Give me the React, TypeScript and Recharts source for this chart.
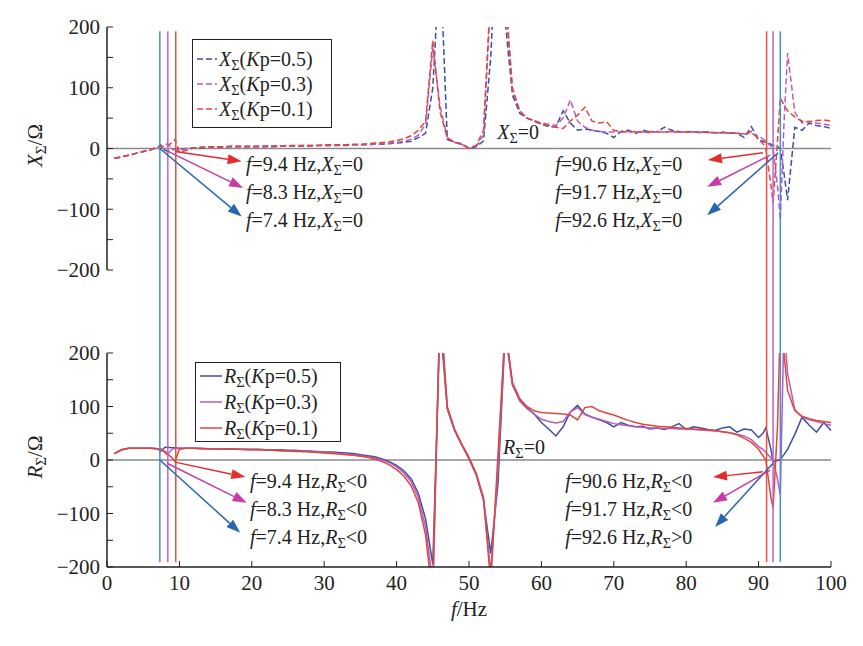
import React from 'react';
import { LineChart, Line, XAxis, YAxis, ReferenceLine, ReferenceDot, Legend } from 'recharts';

const FONT = '"Liberation Serif", "Times New Roman", serif';
const INK = '#222';
const W = 863;
const H = 646;

// sampled frequencies (Hz)
const freq = [
  1, 2, 3, 4, 5, 6, 7, 7.4, 8, 8.3, 9, 9.4, 10,
  11, 12, 13, 14, 15, 16, 17, 18, 19, 20,
  21, 22, 23, 24, 25, 26, 27, 28, 29, 30,
  31, 32, 33, 34, 35, 36, 37, 38, 39, 40,
  41, 42, 43, 44, 45, 46, 47, 48, 49, 50,
  51, 52, 53, 54, 55, 56, 57, 58, 59, 60,
  61, 62, 63, 64, 65, 66, 67, 68, 69, 70,
  71, 72, 73, 74, 75, 76, 77, 78, 79, 80,
  81, 82, 83, 84, 85, 86, 87, 88, 89, 90,
  90.6, 91, 91.7, 92, 92.6, 93, 93.5, 94, 95, 96, 97, 98, 99, 100,
];

// X_Σ, Kp = 0.5 / 0.3 / 0.1
const xKp05 = [
  -16, -14, -11, -8, -5, -2, 2, 6, -3, -4, -2, -1, -1,
  0, 1, 1, 2, 2, 2, 3, 3, 3, 3,
  3, 3, 3, 4, 4, 4, 4, 4, 5, 5,
  5, 5, 5, 6, 6, 6, 7, 7, 8, 9,
  10, 12, 18, 25, 100, 320, 15, 10, 8, -1,
  3, 12, 150, 400, 210, 88, 58, 50, 45, 40,
  36, 36, 62, 42, 30, 32, 30, 28, 25, 18,
  28, 30, 25, 30, 27, 28, 35, 30, 28, 27,
  28, 26, 27, 26, 27, 25, 25, 18, 36, 14,
  12, 10, 7, 5, 3, 0, -40, -85, 35, 30, 42, 38, 36, 33,
];
const xKp03 = [
  -16, -14, -11, -8, -5, -2, 2, 3, 4, 8, 0, -2, -3,
  0, 1, 2, 2, 3, 3, 3, 3, 3, 3,
  3, 4, 4, 4, 4, 4, 5, 5, 5, 5,
  5, 6, 6, 6, 6, 7, 7, 8, 9, 10,
  12, 15, 22, 40, 165, 70, 18, 10, 7, 0,
  3, 22, 250, 450, 250, 95, 62, 50, 46, 42,
  40, 38, 50, 80, 45, 35, 30, 28, 27, 27,
  27, 28, 27, 27, 26, 28, 27, 27, 27, 27,
  27, 27, 26, 26, 26, 25, 25, 24, 25, 20,
  16, 12, 4, 0, -60, -118, 40, 157, 60, 42, 45, 42, 40, 38,
];
const xKp01 = [
  -16, -14, -11, -8, -5, -2, 2, 2, 3, 4, 10, 15, -6,
  -3, 1, 2, 3, 3, 3, 4, 4, 4, 4,
  4, 4, 4, 4, 5, 5, 5, 5, 5, 6,
  6, 6, 6, 7, 7, 8, 9, 10, 11, 13,
  16, 21, 30, 45, 178, 60, 18, 10, 7, 1,
  5, 30, 260, 500, 260, 100, 62, 50, 46, 40,
  38, 35, 33, 45, 55, 68, 45, 42, 44, 30,
  28, 27, 28, 27, 28, 27, 27, 28, 27, 27,
  27, 27, 27, 26, 26, 26, 25, 24, 28, 15,
  8, 0, -60, -90, 10, 83, 72, 62, 52, 45, 44, 46, 47, 45,
];

// R_Σ, Kp = 0.5 / 0.3 / 0.1
const rKp05 = [
  12, 19, 22, 22, 22, 22, 21, 16, 24, 24, 23, 23, 22,
  22, 22, 22, 21, 21, 21, 21, 20, 20, 20,
  20, 19, 19, 19, 18, 18, 17, 17, 16, 15,
  15, 14, 13, 12, 10, 8, 6, 2, -3, -10,
  -20, -35, -62, -110, -195, 260, 95, 55, 28, 2,
  -28, -75, -175, -45, 240, 140, 112, 98, 86, 70,
  58, 45, 62, 90, 102, 86, 80, 75, 70, 62,
  70, 65, 62, 63, 58, 60, 57, 62, 68, 57,
  62, 60, 57, 55, 60, 62, 52, 58, 56, 42,
  50, 60, 20, -3, -1, 1, 10, 20, 48, 80, 65, 52, 70, 55,
];
const rKp03 = [
  12, 19, 22, 22, 22, 22, 21, 20, 14, 10, 20, 22, 22,
  22, 22, 21, 21, 21, 21, 20, 20, 20, 19,
  19, 19, 18, 18, 17, 17, 16, 16, 15, 14,
  13, 12, 11, 10, 8, 6, 4, 0, -5, -13,
  -24, -40, -70, -125, -230, 280, 97, 57, 28, 3,
  -27, -73, -210, -20, 245, 142, 110, 96, 86, 76,
  72, 69, 72, 90, 98, 85, 80, 76, 72, 68,
  66, 64, 62, 61, 60, 60, 59, 59, 58, 58,
  57, 56, 55, 54, 53, 51, 48, 45, 38, 25,
  20, 14, 4, 0, -35, -65, 250, 162, 94, 80, 75, 72, 68, 65,
];
const rKp01 = [
  12, 19, 22, 22, 22, 22, 21, 21, 16, 12, 4, -3, 20,
  22, 22, 21, 21, 21, 20, 20, 20, 19, 19,
  19, 18, 18, 17, 17, 16, 16, 15, 14, 13,
  12, 11, 10, 9, 7, 5, 2, -3, -9, -18,
  -30, -48, -80, -140, -260, 300, 100, 58, 30, 5,
  -25, -70, -230, 10, 250, 145, 115, 100, 92, 89,
  88, 87, 86, 84, 75, 98, 100, 92, 88, 84,
  79, 74, 70, 67, 65, 63, 62, 61, 60, 59,
  58, 57, 56, 55, 53, 51, 47, 41, 33, 20,
  8, 0, -70, -90, 60, 260, 200, 130, 92, 82, 77, 74, 72, 70,
];

const kpNames = ['0.5', '0.3', '0.1'];
const curveColors = ['#3c4fa3', '#b85cba', '#e0473c'];
const cursorColors = ['#4a8fd2', '#c463c4', '#e4503e'];
const arrowColors = ['#2767b2', '#c83aa6', '#e42c2c'];

const xTicks = [0, 10, 20, 30, 40, 50, 60, 70, 80, 90, 100];
const yTicks = [-200, -150, -100, -50, 0, 50, 100, 150, 200];

// where the zero-crossing cursors sit (blue, magenta, red)
const lowCursors = [7.3, 8.4, 9.5];
const highCursors = [93.0, 92.0, 91.1];
const lowFreqLabels = ['7.4', '8.3', '9.4'];
const highFreqLabels = ['92.6', '91.7', '90.6'];
const xSigns = ['=0', '=0', '=0'];
const rLowSigns = ['<0', '<0', '<0'];
const rHighSigns = ['>0', '<0', '<0'];

const xRows = freq.map((f, i) => ({ f, k0: xKp05[i], k1: xKp03[i], k2: xKp01[i] }));
const rRows = freq.map((f, i) => ({ f, k0: rKp05[i], k1: rKp03[i], k2: rKp01[i] }));

type Pt = [number, number];

const Sigma = ({ sym, after }: { sym: string; after: string }) => (
  <>
    <tspan fontStyle="italic">{sym}</tspan>
    <tspan fontSize="0.72em" dy={4}>Σ</tspan>
    <tspan dy={-4}>{after}</tspan>
  </>
);

const arrowShape = (color: string) => (p: any) => {
  const { x1, y1, x2, y2 } = p;
  const dx = x2 - x1;
  const dy = y2 - y1;
  const len = Math.hypot(dx, dy) || 1;
  const ux = dx / len;
  const uy = dy / len;
  const hl = 14;
  const hw = 5;
  const bx = x2 - ux * hl;
  const by = y2 - uy * hl;
  return (
    <g>
      <line x1={x1} y1={y1} x2={bx} y2={by} stroke={color} strokeWidth={1.5} />
      <polygon
        points={`${x2},${y2} ${bx - uy * hw},${by + ux * hw} ${bx + uy * hw},${by - ux * hw}`}
        fill={color}
      />
    </g>
  );
};

const noteShape = (sym: string, fLabel: string, tail: string) => (p: any) => (
  <text x={p.cx} y={p.cy + 7} fontFamily={FONT} fontSize={20} fill={INK}>
    <tspan fontStyle="italic">f</tspan>
    <tspan>{`=${fLabel} Hz,`}</tspan>
    <Sigma sym={sym} after={tail} />
  </text>
);

const zeroShape = (sym: string) => (p: any) => (
  <text x={p.cx} y={p.cy + 7} fontFamily={FONT} fontSize={20} fill={INK}>
    <Sigma sym={sym} after="=0" />
  </text>
);

const yTitle = (sym: string) => (props: any) => {
  const { x, y, height } = props.viewBox;
  const cx = x - 12;
  const cy = y + height / 2 - 3;
  return (
    <text
      x={cx}
      y={cy + 7}
      transform={`rotate(-90 ${cx} ${cy})`}
      textAnchor="middle"
      fontFamily={FONT}
      fontSize={21}
      fill={INK}
    >
      <Sigma sym={sym} after="/Ω" />
    </text>
  );
};

const xTitle = (props: any) => {
  const { x, y, width } = props.viewBox;
  return (
    <text x={x + width / 2} y={y + 49} textAnchor="middle" fontFamily={FONT} fontSize={21} fill={INK}>
      <tspan fontStyle="italic">f</tspan>
      <tspan>/Hz</tspan>
    </text>
  );
};

const yFmt = (v: number) => (v % 100 !== 0 ? '' : v < 0 ? `−${-v}` : `${v}`);
const blank = () => '';

interface LegendBoxProps {
  payload?: any[];
  sym: string;
  dashed: boolean;
  width: number;
  rowH: number;
  padTop: number;
  sample: number;
}

function LegendBox({ payload, sym, dashed, width, rowH, padTop, sample }: LegendBoxProps) {
  const items = [...(payload || [])].sort(
    (a, b) => kpNames.indexOf(String(a.value)) - kpNames.indexOf(String(b.value)),
  );
  return (
    <div
      style={{
        boxSizing: 'border-box',
        width,
        border: `1.5px solid ${INK}`,
        background: '#fff',
        padding: `${padTop}px 0 ${padTop}px 4px`,
        fontFamily: FONT,
        fontSize: 20,
        color: INK,
        lineHeight: 1,
      }}
    >
      {items.map((entry) => (
        <div key={entry.value} style={{ display: 'flex', alignItems: 'center', height: rowH }}>
          <svg width={sample} height={10} style={{ display: 'block', flex: 'none' }}>
            <line
              x1={0}
              y1={5}
              x2={sample}
              y2={5}
              stroke={entry.color}
              strokeWidth={1.5}
              strokeDasharray={dashed ? '6 3' : undefined}
            />
          </svg>
          <span style={{ marginLeft: 2, whiteSpace: 'nowrap' }}>
            <i>{sym}</i>
            <span style={{ fontSize: '0.72em', position: 'relative', top: 4 }}>Σ</span>(<i>K</i>p={entry.value})
          </span>
        </div>
      ))}
    </div>
  );
}

interface PanelProps {
  rows: any[];
  sym: string;
  dashed: boolean;
  plotTop: number;
  plotBottom: number;
  xLabels: boolean;
  cursorSpan: Pt;
  legend: { left: number; top: number; width: number; rowH: number; padTop: number; sample: number };
  arrowsLow: [Pt, Pt][];
  arrowsHigh: [Pt, Pt][];
  noteRows: number[];
  noteLowF: number;
  noteHighF: number;
  lowSigns: string[];
  highSigns: string[];
  zeroNote: Pt;
}

function Panel(p: PanelProps) {
  const xAxisH = p.xLabels ? 30 : 0;
  const tickStyle = { fontFamily: FONT, fontSize: 21, fill: INK };
  return (
    <div style={{ position: 'absolute', left: 0, top: 0 }}>
      <LineChart
        width={W}
        height={H}
        data={p.rows}
        margin={{ top: p.plotTop, right: 32, bottom: H - p.plotBottom - xAxisH, left: 47 }}
      >
        <XAxis
          xAxisId="b"
          dataKey="f"
          type="number"
          domain={[0, 100]}
          ticks={xTicks}
          height={xAxisH}
          tickSize={-6}
          tickMargin={14}
          tick={tickStyle}
          tickFormatter={p.xLabels ? (v: number) => `${v}` : blank}
          axisLine={{ stroke: INK, strokeWidth: 1.5 }}
          tickLine={{ stroke: INK }}
          label={p.xLabels ? xTitle : undefined}
        />
        <XAxis
          xAxisId="t"
          orientation="top"
          dataKey="f"
          type="number"
          domain={[0, 100]}
          ticks={xTicks}
          height={0}
          tickSize={-6}
          tickFormatter={blank}
          axisLine={{ stroke: INK, strokeWidth: 1.5 }}
          tickLine={{ stroke: INK }}
        />
        <YAxis
          yAxisId="l"
          type="number"
          domain={[-200, 200]}
          ticks={yTicks}
          allowDataOverflow
          width={60}
          tickSize={-6}
          tickMargin={13}
          tick={tickStyle}
          tickFormatter={yFmt}
          axisLine={{ stroke: INK, strokeWidth: 1.5 }}
          tickLine={{ stroke: INK }}
          label={yTitle(p.sym)}
        />
        <YAxis
          yAxisId="r"
          orientation="right"
          type="number"
          domain={[-200, 200]}
          ticks={yTicks}
          allowDataOverflow
          width={0}
          tickSize={-6}
          tickFormatter={blank}
          axisLine={{ stroke: INK, strokeWidth: 1.5 }}
          tickLine={{ stroke: INK }}
        />
        <ReferenceLine xAxisId="b" yAxisId="l" y={0} stroke="#8a8a8a" strokeWidth={1.5} />
        {kpNames.map((kp, i) => (
          <Line
            key={kp}
            xAxisId="b"
            yAxisId="l"
            dataKey={`k${i}`}
            name={kp}
            type="linear"
            stroke={curveColors[i]}
            strokeWidth={1.5}
            strokeDasharray={p.dashed ? '6 3' : undefined}
            dot={false}
            isAnimationActive={false}
          />
        ))}
        {[...lowCursors, ...highCursors].map((c, k) => (
          <ReferenceLine
            key={`cur${k}`}
            xAxisId="b"
            yAxisId="l"
            segment={[
              { x: c, y: p.cursorSpan[0] },
              { x: c, y: p.cursorSpan[1] },
            ]}
            stroke={cursorColors[k % 3]}
            strokeWidth={1.5}
          />
        ))}
        {[...p.arrowsLow, ...p.arrowsHigh].map(([a, b], k) => (
          <ReferenceLine
            key={`arr${k}`}
            xAxisId="b"
            yAxisId="l"
            segment={[
              { x: a[0], y: a[1] },
              { x: b[0], y: b[1] },
            ]}
            shape={arrowShape(arrowColors[k % 3])}
          />
        ))}
        {[0, 1, 2].map((i) => (
          <ReferenceDot
            key={`nl${i}`}
            xAxisId="b"
            yAxisId="l"
            x={p.noteLowF}
            y={p.noteRows[2 - i]}
            r={1}
            shape={noteShape(p.sym, lowFreqLabels[i], p.lowSigns[i])}
          />
        ))}
        {[0, 1, 2].map((i) => (
          <ReferenceDot
            key={`nh${i}`}
            xAxisId="b"
            yAxisId="l"
            x={p.noteHighF}
            y={p.noteRows[i]}
            r={1}
            shape={noteShape(p.sym, highFreqLabels[2 - i], p.highSigns[2 - i])}
          />
        ))}
        <ReferenceDot
          xAxisId="b"
          yAxisId="l"
          x={p.zeroNote[0]}
          y={p.zeroNote[1]}
          r={1}
          shape={zeroShape(p.sym)}
        />
        <Legend
          layout="vertical"
          align="center"
          verticalAlign="middle"
          wrapperStyle={{ left: p.legend.left, top: p.legend.top, width: p.legend.width }}
          content={(props: any) => (
            <LegendBox
              payload={props.payload}
              sym={p.sym}
              dashed={p.dashed}
              width={p.legend.width}
              rowH={p.legend.rowH}
              padTop={p.legend.padTop}
              sample={p.legend.sample}
            />
          )}
        />
      </LineChart>
    </div>
  );
}

// arrow [tail, head] in (Hz, Ω); order blue, magenta, red
const xArrowsLow: [Pt, Pt][] = [
  [[7.3, 0], [18.6, -112]],
  [[8.3, -4], [18.8, -65]],
  [[9.4, -5], [18.6, -21]],
];
const xArrowsHigh: [Pt, Pt][] = [
  [[92.7, -7], [82.9, -110]],
  [[91.6, -11], [82.9, -63]],
  [[90.6, -7], [83.0, -19]],
];
const rArrowsLow: [Pt, Pt][] = [
  [[7.3, 0], [18.4, -136]],
  [[8.3, -6], [19.3, -80]],
  [[9.4, -4], [19.1, -32]],
];
const rArrowsHigh: [Pt, Pt][] = [
  [[92.0, -6], [84.0, -125]],
  [[91.6, -19], [83.7, -80]],
  [[90.6, -22], [83.7, -32]],
];

// cursors carried across the gap between the two panels
const gapRows = [
  { f: 0, v: 0 },
  { f: 100, v: 1 },
];

function Gap() {
  return (
    <div style={{ position: 'absolute', left: 0, top: 0 }}>
      <LineChart
        width={W}
        height={H}
        data={gapRows}
        margin={{ top: 270, right: 32, bottom: H - 353, left: 107 }}
      >
        <XAxis dataKey="f" type="number" domain={[0, 100]} height={0} tick={false} axisLine={false} tickLine={false} />
        <YAxis type="number" domain={[0, 1]} width={0} tick={false} axisLine={false} tickLine={false} />
        <Line dataKey="v" stroke="none" dot={false} isAnimationActive={false} />
        {[...lowCursors, ...highCursors].map((c, k) => (
          <ReferenceLine key={k} x={c} stroke={cursorColors[k % 3]} strokeWidth={1.5} />
        ))}
      </LineChart>
    </div>
  );
}

export default function App() {
  return (
    <div style={{ position: 'absolute', left: 0, top: 0, width: W, height: H, background: '#fff' }}>
      <Panel
        rows={xRows}
        sym="X"
        dashed
        plotTop={27}
        plotBottom={270}
        xLabels={false}
        cursorSpan={[193, -200]}
        legend={{ left: 192, top: 39, width: 140, rowH: 25, padTop: 6, sample: 20 }}
        arrowsLow={xArrowsLow}
        arrowsHigh={xArrowsHigh}
        noteRows={[-25.5, -71.6, -117.7]}
        noteLowF={19.2}
        noteHighF={61.9}
        lowSigns={xSigns}
        highSigns={xSigns}
        zeroNote={[53.9, 27]}
      />
      <Gap />
      <Panel
        rows={rRows}
        sym="R"
        dashed={false}
        plotTop={353}
        plotBottom={567}
        xLabels
        cursorSpan={[200, -191]}
        legend={{ left: 195, top: 362, width: 146, rowH: 26, padTop: 0, sample: 22 }}
        arrowsLow={rArrowsLow}
        arrowsHigh={rArrowsHigh}
        noteRows={[-39, -92, -144]}
        noteLowF={19.75}
        noteHighF={63.3}
        lowSigns={rLowSigns}
        highSigns={rHighSigns}
        zeroNote={[54.7, 24]}
      />
    </div>
  );
}
